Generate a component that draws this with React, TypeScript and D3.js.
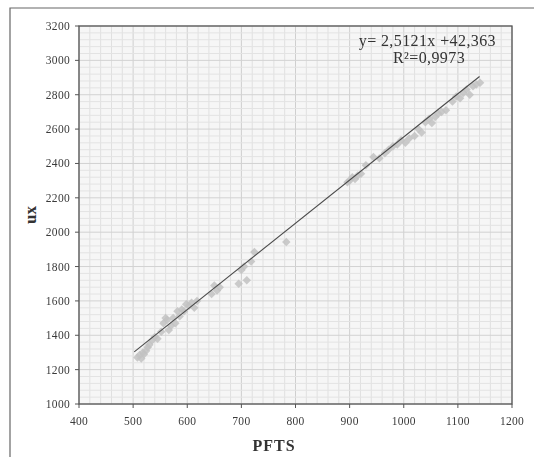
import React from "react";
import * as d3 from "d3";

const W = 534;
const H = 457;

const xTicks = [400, 500, 600, 700, 800, 900, 1000, 1100, 1200];
const yTicks = [1000, 1200, 1400, 1600, 1800, 2000, 2200, 2400, 2600, 2800, 3000, 3200];

const pftsValues = [
  508, 512, 515, 518, 520, 524, 527, 530, 535, 540, 545,
  552, 556, 560, 563, 566, 570, 574, 578, 582, 586, 590, 594, 598, 603, 608, 613, 618,
  645, 650, 655, 660,
  695, 700, 705, 710, 718, 724,
  783,
  896, 900, 905, 910, 915, 921, 930, 944, 955,
  965, 972, 980, 988, 995, 1003, 1010,
  1020, 1027, 1033, 1040, 1047, 1052, 1058, 1064, 1070, 1078,
  1090, 1097, 1104, 1110, 1116, 1122, 1128, 1134, 1141,
];
const uxValues = [
  1270, 1285, 1265, 1300, 1290, 1310, 1330, 1345, 1370, 1390, 1380,
  1420, 1470, 1500, 1490, 1430, 1455, 1500, 1470, 1540, 1510, 1550, 1540, 1580, 1570, 1590, 1560, 1600,
  1640, 1690, 1660, 1680,
  1700, 1780, 1800, 1720, 1830, 1885,
  1943,
  2290, 2300, 2320, 2310, 2330, 2340, 2390, 2437, 2430,
  2460, 2480, 2500, 2510, 2535, 2520, 2545,
  2560, 2600, 2580, 2640, 2660, 2635, 2670, 2690, 2700, 2710,
  2760, 2790, 2780, 2810, 2830, 2800, 2850, 2860, 2870,
];

const slope = 2.5121;
const intercept = 42.363;
const fitRange = [502, 1140];

export default function App() {
  const left = 79, right = 512, top = 26, bottom = 404;
  const x = d3.scaleLinear().domain([400, 1200]).range([left, right]);
  const y = d3.scaleLinear().domain([1000, 3200]).range([bottom, top]);

  const minorX = d3.range(400, 1201, 20);
  const minorY = d3.range(1000, 3201, 40);

  const pts = pftsValues.map((v, i) => [v, uxValues[i]] as [number, number]);
  const line = d3.line<number>().x((d) => x(d)).y((d) => y(slope * d + intercept));

  const serif = "'Liberation Serif', 'DejaVu Serif', serif";

  return (
    <svg width={W} height={H} style={{ position: "absolute", left: 0, top: 0, background: "#fff" }}>
      <defs>
        <filter id="blur" x="-50%" y="-50%" width="200%" height="200%">
          <feGaussianBlur stdDeviation="0.7" />
        </filter>
      </defs>
      <rect x={0} y={0} width={W} height={H} fill="#fff" />
      {/* outer frame */}
      <path d={`M10,${H + 2} L10,8 L${W + 2},8`} fill="none" stroke="#666" strokeWidth={1.2} />
      {/* plot background */}
      <rect x={left} y={top} width={right - left} height={bottom - top} fill="#f6f6f6" />
      {minorX.map((v) => (
        <line key={"gx" + v} x1={x(v)} x2={x(v)} y1={top} y2={bottom}
          stroke={v % 100 === 0 ? "#cfcfcf" : "#e0e0e0"} strokeWidth={1} />
      ))}
      {minorY.map((v) => (
        <line key={"gy" + v} x1={left} x2={right} y1={y(v)} y2={y(v)}
          stroke={v % 200 === 0 ? "#d2d2d2" : "#e3e3e3"} strokeWidth={1} />
      ))}
      {/* points */}
      <g filter="url(#blur)">
        {pts.map(([px, py], i) => (
          <rect key={"p" + i} x={x(px) - 3} y={y(py) - 3} width={6} height={6}
            transform={`rotate(45 ${x(px)} ${y(py)})`} fill="#c2c2c2" opacity={0.85} />
        ))}
      </g>
      {/* trend line */}
      <path d={line(fitRange) || ""} fill="none" stroke="#4a4a4a" strokeWidth={1.1} />
      {/* plot border */}
      <rect x={left} y={top} width={right - left} height={bottom - top} fill="none" stroke="#555" strokeWidth={1.3} />
      {/* y ticks */}
      {yTicks.map((v) => (
        <g key={"yt" + v}>
          <line x1={left - 4} x2={left} y1={y(v)} y2={y(v)} stroke="#555" />
          <text x={left - 9} y={y(v)} dy="0.35em" textAnchor="end" fontFamily={serif} fontSize={11.5} letterSpacing={0.3} fill="#3a3a3a">{v}</text>
        </g>
      ))}
      {xTicks.map((v) => (
        <g key={"xt" + v}>
          <line x1={x(v)} x2={x(v)} y1={bottom} y2={bottom + 4} stroke="#555" />
          <text x={x(v)} y={bottom + 21} textAnchor="middle" fontFamily={serif} fontSize={11.5} letterSpacing={0.3} fill="#3a3a3a">{v}</text>
        </g>
      ))}
      <text x={274} y={451} textAnchor="middle" fontFamily={serif} fontSize={16} letterSpacing={1} fontWeight="bold" fill="#333">PFTS</text>
      <text transform={`translate(36,${(top + bottom) / 2}) rotate(-90)`} textAnchor="middle" fontFamily={serif} fontSize={17} fontWeight="bold" fill="#333">ux</text>
      <text x={496} y={46} textAnchor="end" fontFamily={serif} fontSize={16} letterSpacing={0.4} fill="#333">y= 2,5121x +42,363</text>
      <text x={429} y={63} textAnchor="middle" fontFamily={serif} fontSize={16} letterSpacing={0.4} fill="#333">R²=0,9973</text>
    </svg>
  );
}
